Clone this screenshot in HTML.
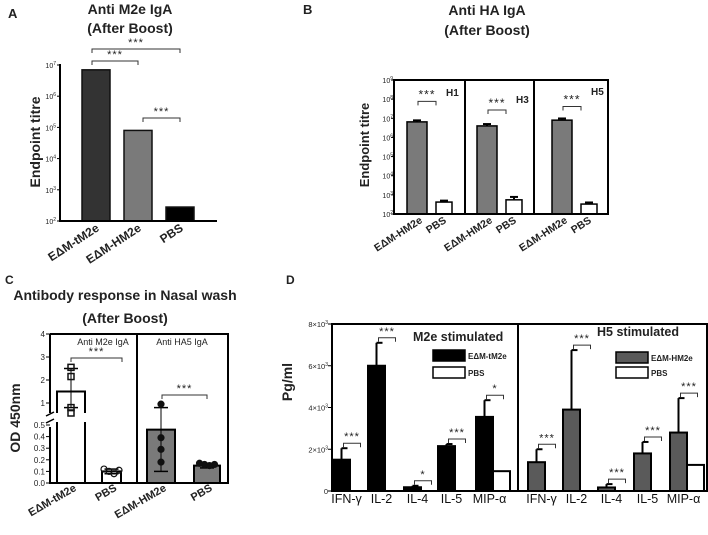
<!DOCTYPE html>
<html><head><meta charset="utf-8"><style>
html,body{margin:0;padding:0;background:#fff;width:708px;height:535px;overflow:hidden}
svg{display:block;font-family:"Liberation Sans",sans-serif}
</style></head><body>
<svg id="fig" width="708" height="535" viewBox="0 0 708 535">
<g font-weight="bold" fill="#222">
<text x="8" y="18" font-size="13">A</text>
<text x="303" y="14" font-size="13">B</text>
<text x="5" y="284" font-size="12">C</text>
<text x="286" y="284" font-size="12">D</text>
<text x="130" y="14" font-size="14" text-anchor="middle">Anti M2e  IgA</text>
<text x="130" y="33" font-size="14" text-anchor="middle">(After Boost)</text>
<text x="487" y="15" font-size="14" text-anchor="middle">Anti HA IgA</text>
<text x="487" y="35" font-size="14" text-anchor="middle">(After Boost)</text>
<text x="125" y="300" font-size="14" text-anchor="middle">Antibody response in Nasal wash</text>
<text x="125" y="323" font-size="14" text-anchor="middle">(After Boost)</text>
<text transform="translate(40,142) rotate(-90)" font-size="14" text-anchor="middle">Endpoint titre</text>
<text transform="translate(369,145) rotate(-90)" font-size="13" text-anchor="middle">Endpoint titre</text>
<text transform="translate(20,418) rotate(-90)" font-size="14" text-anchor="middle">OD 450nm</text>
<text transform="translate(292,382) rotate(-90)" font-size="14" text-anchor="middle">Pg/ml</text>
</g>
</svg>
<script>
// ---------- Panel A data ----------
const aCats = ["EΔM-tM2e","EΔM-HM2e","PBS"];
const aVals = [7000000, 80000, 280];
const aFills = ["#333","#7a7a7a","#000"];
const aTicks = [2,3,4,5,6,7];
// ---------- Panel B data ----------
const bGroups = ["H1","H3","H5"];
const bCats = ["EΔM-HM2e","PBS"];
const bVac = [6500000, 4000000, 8000000];
const bVacErr = [7800000, 5000000, 9800000];
const bPbs = [420, 550, 330];
const bPbsErr = [500, 780, 400];
const bTicks = [2,3,4,5,6,7,8,9];
// ---------- Panel C data ----------
const cCats = ["EΔM-tM2e","PBS","EΔM-HM2e","PBS"];
const cVals = [1.5, 0.1, 0.46, 0.15];
const cErrHi = [2.5, 0.12, 0.65, 0.17];
const cErrLo = [0.8, 0.08, 0.1, 0.13];
const cPoints = [[2.55,2.15,0.8,0.55],[0.12,0.1,0.08,0.11],[0.68,0.39,0.29,0.18],[0.17,0.16,0.15,0.16]];
const cUpperTicks = [1,2,3,4];
const cLowerTicks = [0,0.1,0.2,0.3,0.4,0.5];
// ---------- Panel D data ----------
const dCats = ["IFN-γ","IL-2","IL-4","IL-5","MIP-α"];
const dM2e = [1500, 6000, 180, 2150, 3550];
const dM2eErr = [2050, 7100, 250, 2250, 4350];
const dM2ePbs = [0, 0, 0, 0, 950];
const dM2eSig = ["***","***","*","***","*"];
const dH5 = [1380, 3900, 170, 1800, 2800];
const dH5Err = [2000, 6750, 330, 2350, 4450];
const dH5Pbs = [0, 0, 0, 0, 1250];
const dH5Sig = ["***","***","***","***","***"];
const dTicks = [0,2,4,6,8];

const svg = document.getElementById('fig');
const NS = 'http://www.w3.org/2000/svg';
function mk(tag, attrs, text){const e=document.createElementNS(NS,tag);for(const k in attrs)e.setAttribute(k,attrs[k]);if(text!==undefined)e.textContent=text;svg.appendChild(e);return e;}
function line(x1,y1,x2,y2,w){return mk('line',{x1,y1,x2,y2,stroke:'#000','stroke-width':w||1.5});}
function bracket(x1,x2,y,stars,fs){
  const p=mk('path',{d:`M${x1},${y+4}V${y}H${x2}V${y+4}`,fill:'none',stroke:'#333','stroke-width':1});
  
  
  const t=mk('text',{x:(x1+x2)/2,y:y-3,'font-size':fs||11,'text-anchor':'middle',fill:'#222','letter-spacing':'1'},stars);
  
  
}
function xlabel(x,y,txt,fs,ang){
  const t=mk('text',{transform:`translate(${x},${y}) rotate(${ang||-33})`,'font-size':fs,'font-weight':'bold','text-anchor':'end',fill:'#222'},txt);
  
  
}
function ytick(x,y,html,fs){
  const t=mk('text',{x:x,y:y+3,'font-size':fs||7,'text-anchor':'end',fill:'#222'});
  t.innerHTML=html;
  
  
}

// ---------- Panel A ----------
const yA = v => 221 - (Math.log10(v)-2)*31.2;
const xA = i => 82 + i*42;
aTicks.forEach(p=>{line(57,yA(10**p),60,yA(10**p),1);ytick(56,yA(10**p),`10<tspan dy="-3" font-size="5">${p}</tspan>`,7);});
aVals.forEach((v,i)=>{
  const r=mk('rect',{x:xA(i),y:yA(v),width:28,height:221-yA(v),fill:aFills[i],stroke:'#111','stroke-width':1.5});
  
  
  xlabel(xA(i)+18,230,aCats[i],12);
});
line(60,64,60,222,2); line(59,221,217,221,2);
bracket(xA(0)+10,xA(1)+14,61,'***'); bracket(xA(0)+10,xA(2)+14,49,'***'); bracket(xA(1)+19,xA(2)+14,118,'***');

// ---------- Panel B ----------
const yB = v => 214 - (Math.log10(v)-2)*19.14;
const bx0 = [407,477,552];
bTicks.forEach(p=>{line(391,yB(10**p),394,yB(10**p),1);ytick(393,yB(10**p),`10<tspan dy="-3" font-size="5">${p}</tspan>`,7);});
bGroups.forEach((g,i)=>{
  const x=bx0[i];
  line(x+10,yB(bVacErr[i]),x+10,yB(bVac[i]),2); line(x+6,yB(bVacErr[i]),x+14,yB(bVacErr[i]),2);
  const r=mk('rect',{x:x,y:yB(bVac[i]),width:20,height:214-yB(bVac[i]),fill:'#7a7a7a',stroke:'#000','stroke-width':1.5});
  
  
  line(x+37,yB(bPbsErr[i]),x+37,yB(bPbs[i]),2); line(x+33,yB(bPbsErr[i]),x+41,yB(bPbsErr[i]),2);
  const r2=mk('rect',{x:x+29,y:yB(bPbs[i]),width:16,height:214-yB(bPbs[i]),fill:'#fff',stroke:'#000','stroke-width':1.5});
  
  
  const t=mk('text',{x:x+39,y:[96,103,95][i],'font-size':10,'font-weight':'bold',fill:'#222'},g);
  
  
  bracket(x+11,x+29,yB(bVacErr[i])-[19,14,12][i],'***',12);
  xlabel(x+16,222,bCats[0],10.5); xlabel(x+40,222,bCats[1],10.5);
});
const fb=mk('rect',{x:394,y:80,width:214,height:134,fill:'none',stroke:'#000','stroke-width':2});


line(465,80,465,214,2); line(534,80,534,214,2);

// ---------- Panel C ----------
const yCU = v => 403 - (v-1)*23;
const yCL = v => 483 - v*116;
const yC = (v,i) => (i===0 && v>0.5) ? Math.min(yCU(v),413) : yCL(v);
const cx0 = [57,102,147,194], cw=[28,19,28,26];
cUpperTicks.forEach(v=>{line(46,yCU(v),50,yCU(v),1);ytick(45,yCU(v),String(v),8);});
cLowerTicks.forEach(v=>{line(46,yCL(v),50,yCL(v),1);ytick(45,yCL(v),v.toFixed(1),8);});
cVals.forEach((v,i)=>{
  const x=cx0[i],w=cw[i],top=yC(v,i),fill=i>=2?'#7a7a7a':'#fff';
  if(i===0){
    const p=mk('path',{d:`M${x},483V${422}M${x+w},483V422M${x},413V${top}H${x+w}V413`,fill:'none',stroke:'#000','stroke-width':2});
    
    
  } else {
    const r=mk('rect',{x:x,y:top,width:w,height:483-top,fill:fill,stroke:'#000','stroke-width':2});
    
    
  }
  const cxm=x+w/2;
  line(cxm,yC(cErrHi[i],i),cxm,yC(cErrLo[i],i),1);
  line(cxm-7,yC(cErrHi[i],i),cxm+7,yC(cErrHi[i],i),1.5); line(cxm-7,yC(cErrLo[i],i),cxm+7,yC(cErrLo[i],i),1.5);
  cPoints[i].forEach((p,k)=>{
    const px=cxm+(i%2===1?(k-1.5)*5:0), py=yC(p,i);
    const m = i===0 ? mk('rect',{x:px-3,y:py-3,width:6,height:6,fill:'none',stroke:'#111','stroke-width':1.5})
                    : mk('circle',{cx:px,cy:py,r:3,fill:i===1?'none':'#111',stroke:'#111','stroke-width':1.2});
    
    
  });
  xlabel(cxm+6,490,cCats[i],11,-30);
});
const fc=mk('path',{d:'M50,334H228V483H50V427M50,413V334',fill:'none',stroke:'#000','stroke-width':2});


line(137,334,137,483,2);
line(46,416,54,412,1.5); line(46,423,54,419,1.5);
[["Anti M2e IgA",103],["Anti HA5 IgA",182]].forEach(([s,x])=>{
  const t=mk('text',{x:x,y:345,'font-size':9,'text-anchor':'middle',fill:'#222'},s);
  
  
});
bracket(71,122,358,'***'); bracket(162,207,395,'***');

// ---------- Panel D ----------
const yD = v => 491 - v*167/8000;
const dLeft=[333,368,404,438,476], dRight=[528,563,598,634,670], bw=17;
dTicks.forEach(v=>{line(328,yD(v*1000),332,yD(v*1000),1);ytick(328,yD(v*1000),v===0?'0':`${v}×10<tspan dy="-3" font-size="5">3</tspan>`,7.5);});
function dPanel(xs,vals,errs,pbs,sig,fill,tag){
  vals.forEach((v,i)=>{
    const x=xs[i];
    line(x+bw/2,yD(errs[i]),x+bw/2,yD(v),2); line(x+bw/2,yD(errs[i]),x+bw/2+6,yD(errs[i]),2);
    const r=mk('rect',{x:x,y:yD(v),width:bw,height:491-yD(v),fill:fill,stroke:'#000','stroke-width':2});
    
    
    if(pbs[i]>0){
      const r2=mk('rect',{x:x+bw,y:yD(pbs[i]),width:bw,height:491-yD(pbs[i]),fill:'#fff',stroke:'#000','stroke-width':2});
      
      
    }
    bracket(x+bw/2+2,x+bw*1.5+2,Math.min(yD(errs[i]),yD(pbs[i]))-5,sig[i],11);
    const t=mk('text',{x:x+bw/2+5,y:503,'font-size':12.5,'text-anchor':'middle',fill:'#111'},dCats[i]);
    
    
  });
}
dPanel(dLeft,dM2e,dM2eErr,dM2ePbs,dM2eSig,'#000','m2e');
dPanel(dRight,dH5,dH5Err,dH5Pbs,dH5Sig,'#5a5a5a','h5');
const fd=mk('path',{d:'M332,324H707V491H332Z',fill:'none',stroke:'#000','stroke-width':2});


line(518,324,518,491,2);
[["M2e stimulated",413,341],["H5 stimulated",597,336]].forEach(([s,x,y])=>{
  const t=mk('text',{x:x,y:y,'font-size':12.5,'font-weight':'bold',fill:'#222'},s);
  
  
});
[[433,350,'#000','EΔM-tM2e'],[433,367,'#fff','PBS'],[616,352,'#5a5a5a','EΔM-HM2e'],[616,367,'#fff','PBS']].forEach(([x,y,f,s])=>{
  const r=mk('rect',{x:x,y:y,width:32,height:11,fill:f,stroke:'#000','stroke-width':1.5});
  
  
  const t=mk('text',{x:x+35,y:y+9,'font-size':8,'font-weight':'bold',fill:'#222'},s);
  
  
});
</script>
</body></html>
